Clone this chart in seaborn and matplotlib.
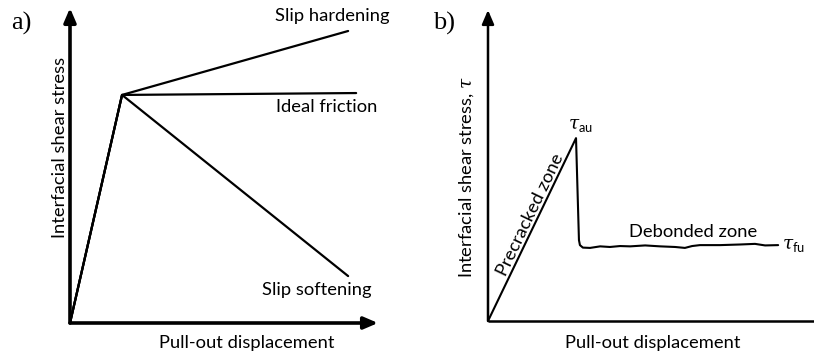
import numpy as np
import pandas as pd
import matplotlib
matplotlib.use("Agg")
import matplotlib.pyplot as plt
import seaborn as sns

# Panel a: bond-slip laws (schematic units, 0-10 on both axes)
peak_a = (1.69, 7.24)
law_names = ["Slip hardening", "Ideal friction", "Slip softening"]
law_end_x = [9.03, 9.29, 9.03]
law_end_y = [9.27, 7.30, 1.49]

# Panel b: pull-out curve with debonded plateau
pull_x = [0.0, 2.70, 2.79, 2.82, 2.91, 3.13, 3.44, 3.74, 4.05, 4.36, 4.82, 5.28,
          5.74, 6.04, 6.26, 6.50, 7.12, 7.73, 8.19, 8.50, 8.90]
pull_y = [0.0, 5.88, 2.60, 2.44, 2.36, 2.35, 2.40, 2.38, 2.41, 2.40, 2.43, 2.40,
          2.38, 2.35, 2.41, 2.44, 2.44, 2.46, 2.48, 2.43, 2.44]

W, H = 814, 356
sns.set_theme(style="white")
plt.rcParams["font.family"] = ["Lato", "DejaVu Sans"]
plt.rcParams["mathtext.fontset"] = "custom"
plt.rcParams["mathtext.rm"] = "Lato"
plt.rcParams["mathtext.it"] = "DejaVu Serif:italic"

fig = plt.figure(figsize=(W / 100, H / 100), dpi=100)
fig.patch.set_facecolor("white")


def px_axes(left, top, right, bottom):
    return fig.add_axes([left / W, 1 - bottom / H, (right - left) / W, (bottom - top) / H])


def ftxt(x, y, s, **kw):
    fig.text(x / W, 1 - y / H, s, **kw)


LBL = dict(fontsize=13.2, color="black")

# ---------- panel a ----------
ax_a = px_axes(70, 8, 378, 323)
rows = []
for name, ex, ey in zip(law_names, law_end_x, law_end_y):
    rows += [dict(law=name, d=0.0, s=0.0), dict(law=name, d=peak_a[0], s=peak_a[1]),
             dict(law=name, d=ex, s=ey)]
df_a = pd.DataFrame(rows)
sns.lineplot(data=df_a, x="d", y="s", units="law", estimator=None, sort=False,
             color="black", lw=1.6, ax=ax_a, legend=False)
ax_a.set_xlim(0, 10)
ax_a.set_ylim(0, 10)

# ---------- panel b ----------
ax_b = px_axes(488, 10, 814, 321)
df_b = pd.DataFrame(dict(d=pull_x, s=pull_y))
sns.lineplot(data=df_b, x="d", y="s", sort=False, color="black", lw=1.5, ax=ax_b)
ax_b.set_xlim(0, 10)
ax_b.set_ylim(0, 10)

for ax, lw, xarrow in [(ax_a, 2.6, True), (ax_b, 1.8, False)]:
    ax.set_axis_off()
    ax.annotate("", xy=(0, 1), xytext=(0, 0), xycoords="axes fraction",
                arrowprops=dict(arrowstyle="-|>,head_length=0.7,head_width=0.3",
                                lw=lw, color="black", shrinkA=0, shrinkB=0))
    if xarrow:
        ax.annotate("", xy=(1, 0), xytext=(0, 0), xycoords="axes fraction",
                    arrowprops=dict(arrowstyle="-|>,head_length=0.7,head_width=0.3",
                                    lw=lw, color="black", shrinkA=0, shrinkB=0))
    else:
        ax.plot([0, 1.02], [0, 0], transform=ax.transAxes, color="black", lw=lw,
                clip_on=False, solid_capstyle="butt")

# ---------- text ----------
serif = dict(family=["Liberation Serif", "DejaVu Serif"], fontsize=19, color="black")
ftxt(21, 23, "a)", ha="center", va="center", **serif)
ftxt(444, 23, "b)", ha="center", va="center", **serif)

ftxt(332, 16, law_names[0], ha="center", va="center", **LBL)
ftxt(327, 107, law_names[1], ha="center", va="center", **LBL)
ftxt(317, 290, law_names[2], ha="center", va="center", **LBL)
ftxt(247, 343, "Pull-out displacement", ha="center", va="center", **LBL)
ftxt(60, 147, "Interfacial shear stress", ha="center", va="center", rotation=90, **LBL)

ftxt(653, 343, "Pull-out displacement", ha="center", va="center", **LBL)
ftxt(467, 177, r"Interfacial shear stress, $\mathit{\tau}$", ha="center", va="center",
     rotation=90, **LBL)
ftxt(530, 215, "Precracked zone", ha="center", va="center", rotation=64.3,
     rotation_mode="anchor", **LBL)
ftxt(693, 232, "Debonded zone", ha="center", va="center", **LBL)
ftxt(580, 126, r"$\mathit{\tau}_{\mathrm{au}}$", ha="center", va="center", **LBL)
ftxt(793, 246, r"$\mathit{\tau}_{\mathrm{fu}}$", ha="center", va="center", **LBL)

fig.savefig("out.png", dpi=100, facecolor="white")
